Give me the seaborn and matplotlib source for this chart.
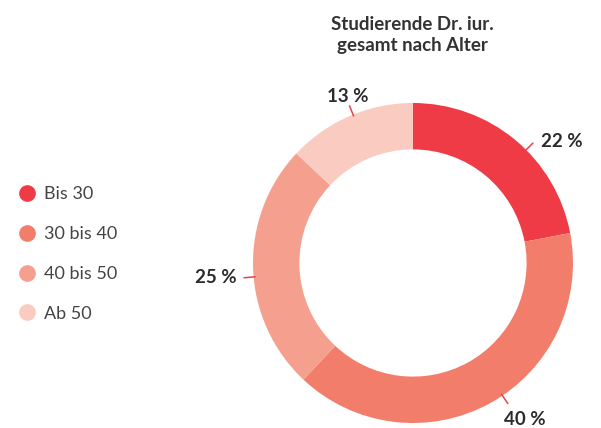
import matplotlib
matplotlib.use("Agg")
import matplotlib.pyplot as plt
import seaborn as sns
import numpy as np
from matplotlib.lines import Line2D

# data
categories = ["Bis 30", "30 bis 40", "40 bis 50", "Ab 50"]
shares = [22, 40, 25, 13]
pct_labels = ["22 %", "40 %", "25 %", "13 %"]
colors = ["#EF3B45", "#F27D6B", "#F5A08E", "#FACBC0"]
title = "Studierende Dr. iur.\ngesamt nach Alter"

sns.set_theme(style="white")
plt.rcParams["font.family"] = ["Lato", "DejaVu Sans"]

fig = plt.figure(figsize=(6.01, 4.28), dpi=100)
ax = fig.add_axes([253 / 601, 5 / 428, 320 / 601, 320 / 428])

palette = sns.color_palette(colors)
wedges, _ = ax.pie(shares, colors=palette, startangle=90, counterclock=False,
                   wedgeprops=dict(width=0.29, linewidth=0))
ax.set_aspect("equal")
ax.set_xlim(-1, 1)
ax.set_ylim(-1, 1)

# label layout: (leader angle, text x, text y, ha)
layout = [(45, 0.80, 0.76, "left"),
          (-56, 0.70, -0.98, "center"),
          (-175, -1.10, -0.09, "right"),
          (112, -0.41, 1.04, "center")]
for lab, (ang, tx, ty, ha) in zip(pct_labels, layout):
    a = np.deg2rad(ang)
    ax.plot([0.99 * np.cos(a), 1.06 * np.cos(a)], [0.99 * np.sin(a), 1.06 * np.sin(a)],
            color="#E8434B", lw=1.1, clip_on=False)
    ax.text(tx, ty, lab, ha=ha, va="center", fontsize=13.5, fontweight="bold",
            color="#2b2b2b", clip_on=False)

fig.text(412 / 601, 1 - 35 / 428, title, ha="center", va="center", fontsize=13.5,
         fontweight="bold", color="#333333", linespacing=1.35)

handles = [Line2D([0], [0], marker="o", linestyle="", markersize=11,
                  markerfacecolor=c, markeredgecolor=c) for c in colors]
fig.legend(handles, categories, loc="center left", bbox_to_anchor=(0.0, 1 - 254 / 428),
           frameon=False, fontsize=13, labelcolor="#444444", labelspacing=1.32,
           handletextpad=0.35, handlelength=1.2)

fig.savefig("out.png", dpi=100)
